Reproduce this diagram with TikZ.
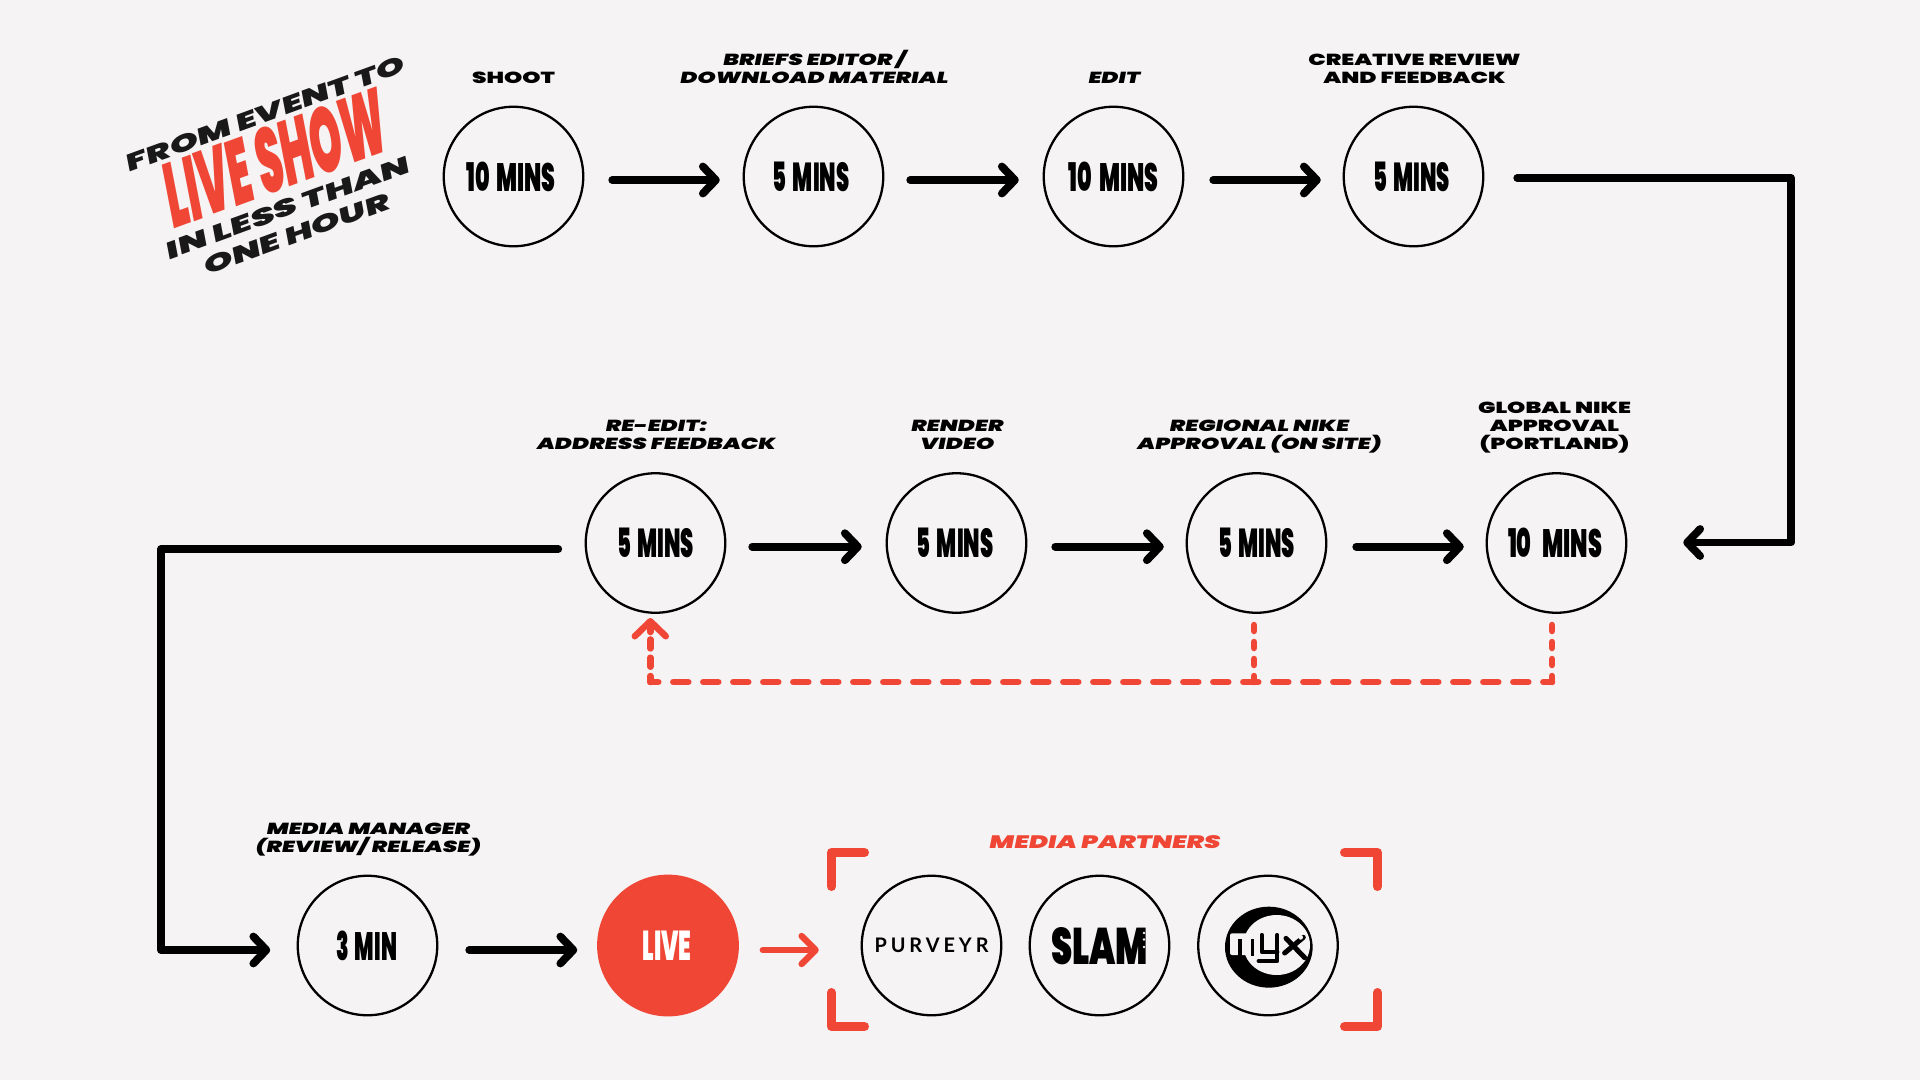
\documentclass[tikz,border=0pt]{standalone}
\usepackage{fontspec}
\usepackage{graphicx}
\usetikzlibrary{arrows.meta}
\newfontfamily\lblup{Poppins Black}[FakeStretch=1.45]
\newfontfamily\lblit{Poppins Black}[FakeStretch=1.45,FakeSlant=0.2]
\newfontfamily\heavy{Poppins Black}
\newfontfamily\thinlogo{Lato}[LetterSpace=20]
\definecolor{bgc}{HTML}{F5F3F4}
\definecolor{redc}{HTML}{F04635}
\definecolor{ink}{HTML}{000000}
\newcommand\dur[2]{\resizebox{#1pt}{29.5pt}{\heavy #2}}
\newcommand\fitbox[3]{\resizebox{#1pt}{#2pt}{\heavy #3}}
\newcommand\gap{\hspace{.14em}}
\tikzset{
  stagec/.style={circle,draw=ink,line width=2.3pt,minimum size=139.5pt,inner sep=0pt,outer sep=0pt},
  lbl/.style={align=center,anchor=south,inner sep=0pt,outer sep=0pt,text depth=0pt,text=ink,font=\fontsize{16}{18}\selectfont},
  flow/.style={draw=ink,line width=7.8pt,line cap=round,line join=round,-{Straight Barb[round,length=13pt,width=27pt]}},
  flowred/.style={draw=redc,line width=6.3pt,line cap=round,line join=round,-{Straight Barb[round,length=14pt,width=28pt]}},
  dashh/.style={draw=redc,line width=6.5pt,line cap=round,dash pattern=on 15pt off 15pt,dash phase=7pt},
  dashv/.style={draw=redc,line width=6.5pt,line cap=round,dash pattern=on 6pt off 11pt},
  dashl/.style={draw=redc,line width=6.5pt,line cap=round,dash pattern=on 9pt off 9.3pt,dash phase=3pt},
  bracketr/.style={draw=redc,line width=9pt,line cap=round,line join=round},
  titlet/.style={inner sep=0pt,outer sep=0pt,rotate=20,xslant=0.16},
}
\begin{document}
\begin{tikzpicture}[x=1pt,y=-1pt]
\fill[bgc] (0,0) rectangle (1920,1080);
\useasboundingbox (0,0) rectangle (1920,1080);

% title
\node[titlet,text=black!90] (t1) at (266,113.5) {\fitbox{295}{17}{FROM EVENT TO}};
\node[titlet,text=redc] (t2) at (275.5,158) {\fitbox{232}{65}{LIVE SHOW}};
\node[titlet,text=black!90] (t3) at (288,207.5) {\fitbox{258}{17}{IN LESS THAN}};
\node[titlet,text=black!90] (t4) at (297,234) {\fitbox{196}{17}{ONE HOUR}};

% stages
\node[stagec] (c1) at (513.5,176.5) {\hspace*{-5pt}\dur{89.5}{10\gap{} MINS}};
\node[stagec] (c2) at (813.5,176.5) {\hspace*{-5pt}\dur{77}{5\gap{} MINS}};
\node[stagec] (c3) at (1113.5,176.5) {\dur{89.5}{10\gap{} MINS}};
\node[stagec] (c4) at (1413.5,176.5) {\hspace*{-4pt}\dur{77}{5\gap{} MINS}};
\node[stagec] (c5) at (655.5,543) {\dur{77}{5\gap{} MINS}};
\node[stagec] (c6) at (956.5,543) {\hspace*{-3pt}\dur{77}{5\gap{} MINS}};
\node[stagec] (c7) at (1256.5,543) {\dur{77}{5\gap{} MINS}};
\node[stagec] (c8) at (1556.5,543) {\hspace*{-3pt}\dur{94}{10\hspace{.3em} MINS}};
\node[stagec] (c9) at (367.5,945.5) {\hspace*{-2pt}\dur{61}{3\gap{} MIN}};
\node[stagec,fill=redc,draw=redc,text=white] (live) at (668,945.5) {\hspace*{-2pt}\dur{49}{LIVE}};
\node[stagec] (c11) at (931.5,945.5) {\resizebox{114pt}{14.5pt}{\thinlogo\bfseries PURVEYR}};
\node[stagec] (c12) at (1099.5,945.5) {};
\node[stagec] (c13) at (1268,945.5) {};

% labels
\node[lbl] (l1) at ([yshift=23pt]c1.north) {\lblup SHOOT};
\node[lbl] (l2) at ([yshift=23pt]c2.north) {\lblit BRIEFS EDITOR /\\\lblit DOWNLOAD MATERIAL};
\node[lbl] (l3) at ([yshift=23pt]c3.north) {\lblit EDIT};
\node[lbl] (l4) at ([xshift=1pt,yshift=23pt]c4.north) {\lblup CREATIVE REVIEW\\\lblup AND FEEDBACK};
\node[lbl] (l5) at ([yshift=24pt]c5.north) {\lblit RE-EDIT:\\\lblit ADDRESS FEEDBACK};
\node[lbl] (l6) at ([yshift=24pt]c6.north) {\lblit RENDER\\\lblit VIDEO};
\node[lbl] (l7) at ([xshift=2pt,yshift=24pt]c7.north) {\lblit REGIONAL NIKE\\\lblit APPROVAL (ON SITE)};
\node[lbl] (l8) at ([xshift=-2pt,yshift=24pt]c8.north) {\lblup GLOBAL NIKE\\\lblup APPROVAL\\\lblup (PORTLAND)};
\node[lbl] (l9) at ([yshift=23pt]c9.north) {\lblit MEDIA MANAGER\\\lblit (REVIEW/ RELEASE)};
\node[lbl,text=redc,font=\fontsize{18}{18}\selectfont] (l10) at (1104,848) {\lblit MEDIA PARTNERS};

% row 1 connectors
\draw[flow] ([shift={(29,3.5)}]c1.east) -- ([shift={(-24,3.5)}]c2.west);
\draw[flow] ([shift={(27,3.5)}]c2.east) -- ([shift={(-25,3.5)}]c3.west);
\draw[flow] ([shift={(30,3.5)}]c3.east) -- ([shift={(-23,3.5)}]c4.west);
\coordinate (rt1) at (1791,178);
\coordinate (rt2) at (1791,542.5);
\draw[flow] ([shift={(34,1.5)}]c4.east) -- (rt1) -- (rt2) -- ([shift={(57,-.5)}]c8.east);
% row 2 connectors
\draw[flow] ([shift={(27,3.7)}]c5.east) -- ([shift={(-25,3.7)}]c6.west);
\draw[flow] ([shift={(29,3.7)}]c6.east) -- ([shift={(-23,3.7)}]c7.west);
\draw[flow] ([shift={(30,3.7)}]c7.east) -- ([shift={(-23,3.7)}]c8.west);
\coordinate (lf1) at (161,549);
\coordinate (lf2) at (161,950);
\draw[flow] ([shift={(-27.5,6)}]c5.west) -- (lf1) -- (lf2) -- ([shift={(-27.5,4.5)}]c9.west);
% row 3 connectors
\draw[flow] ([shift={(32,4.5)}]c9.east) -- ([shift={(-21,4.5)}]live.west);
\draw[flowred] ([shift={(25,4.5)}]live.east) -- ([shift={(-43,4.5)}]c11.west);

% feedback
\coordinate (fbL) at (650.3,682);
\coordinate (fbM) at (1254,682);
\coordinate (fbR) at (1552,682);
\draw[dashh] (fbL) -- (fbR);
\draw[dashv] (fbR) -- ([yshift=57pt]fbR);
\draw[dashv] (fbM) -- ([yshift=57pt]fbM);
\draw[dashl] (fbL) -- ([yshift=52pt]fbL);
\draw[draw=redc,line width=6.5pt,line cap=round,-{Straight Barb[round,length=15pt,width=31pt]}] ([yshift=50pt]fbL) -- ([yshift=64pt]fbL);

% brackets
\coordinate (bl) at (831.5,852.5);
\coordinate (br) at (1377.5,852.5);
\coordinate (cl) at (831.5,1026.5);
\coordinate (cr) at (1377.5,1026.5);
\draw[bracketr] ([shift={(0,34)}]bl) -- (bl) -- ([shift={(33,0)}]bl);
\draw[bracketr] ([shift={(0,34)}]br) -- (br) -- ([shift={(-33,0)}]br);
\draw[bracketr] ([shift={(0,-34)}]cl) -- (cl) -- ([shift={(33,0)}]cl);
\draw[bracketr] ([shift={(0,-34)}]cr) -- (cr) -- ([shift={(-33,0)}]cr);

% SLAM logo
\node[inner sep=0pt,text=black] (slam) at (1099.5,946.5) {\resizebox{97pt}{37pt}{\heavy SLAM}};
\foreach \yy in {933,939.5,947} \fill[bgc] (1144,\yy) circle (1.4pt);

% MYX logo
\begin{scope}[shift={(1210,895)},x=.3333pt,y=-.3333pt]
\fill[black] (176.5,156.5) ellipse [x radius=131.5*.3333pt,y radius=121.5*.3333pt];
\fill[bgc] (200,150) ellipse [x radius=100*.3333pt,y radius=90*.3333pt];
% m: light letter on the ring
\fill[bgc,rounded corners=2pt] (60,115) -- (165,115) -- (165,180) -- (60,180) -- cycle;
\fill[black] (85,132) rectangle (96,182);
\fill[black] (122,132) rectangle (133,182);
% y
\draw[black,line width=4.2pt,line cap=round,line join=round] (155,120) -- (155,170) -- (202,170);
\draw[black,line width=4.2pt,line cap=round,line join=round] (202,120) -- (202,198) -- (146,198);
% x
\draw[black,line width=5pt,line cap=round] (224,174) -- (280,127);
\draw[black,line width=5pt,line cap=round] (228,130) -- (284,188);
\fill[bgc] (272,127) circle (7*.3333pt);
\end{scope}
\end{tikzpicture}
\end{document}
